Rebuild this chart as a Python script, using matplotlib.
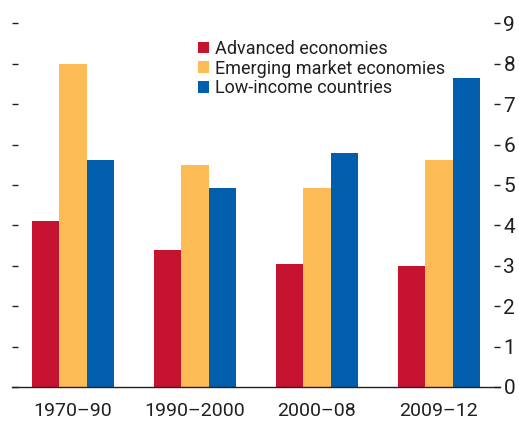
import numpy as np
from matplotlib import pyplot as plt
from matplotlib.patches import Patch

plt.rcParams['font.family'] = ['Roboto', 'DejaVu Sans']

# data
periods = ["1970\u201390", "1990\u20132000", "2000\u201308", "2009\u201312"]
advanced = [4.1, 3.4, 3.05, 3.0]
emerging = [8.0, 5.5, 4.93, 5.63]
low_income = [5.63, 4.93, 5.8, 7.65]

series = ["Advanced economies", "Emerging market economies", "Low-income countries"]
colors = ["#C41230", "#FDBB56", "#005EAC"]
text_col = "#231F20"

fig = plt.figure(figsize=(5.19, 4.21), dpi=100)
ax = fig.add_axes([12 / 519, 34 / 421, 488 / 519, 363.6 / 421])

x = np.arange(len(periods))
w = 0.222
for i, (vals, col) in enumerate(zip([advanced, emerging, low_income], colors)):
    ax.bar(x + (i - 1) * w, vals, width=w, color=col, linewidth=0)

ax.set_xlim(-0.5, 3.5)
ax.set_ylim(0, 9)
ax.set_yticks(range(10))
ax.set_xticks(x)
ax.set_xticklabels(periods)

for s in ["top", "left", "right"]:
    ax.spines[s].set_visible(False)
ax.spines["bottom"].set_color(text_col)
ax.spines["bottom"].set_linewidth(1.0)

ax.tick_params(axis="y", left=True, right=True, labelleft=False, labelright=True,
               direction="in", length=4.2, width=1.0, color=text_col,
               labelcolor=text_col, labelsize=15, pad=2.5)
ax.tick_params(axis="x", bottom=False, labelsize=14, labelcolor=text_col, pad=7.5)

handles = [Patch(facecolor=c, edgecolor="none") for c in colors]
ax.legend(handles, series, loc="upper left", bbox_to_anchor=(0.366, 0.975),
          frameon=False, fontsize=13, handlelength=0.6, handleheight=0.6,
          handletextpad=0.35, labelspacing=0.1, borderaxespad=0,
          labelcolor=text_col)

fig.savefig("out.png", dpi=100)
